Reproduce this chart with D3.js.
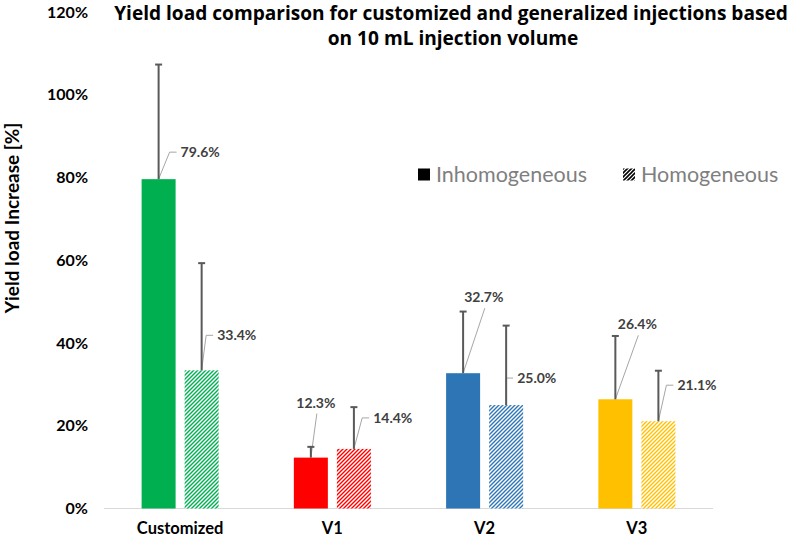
<!DOCTYPE html>
<html><head><meta charset="utf-8">
<script src="https://cdn.jsdelivr.net/npm/d3@7"></script>
<style>body{margin:0;background:#fff;} svg{display:block;}</style>
</head><body>
<svg id="chart" width="800" height="539"></svg>
<script>
const categories = ["Customized", "V1", "V2", "V3"];
const seriesNames = ["Inhomogeneous", "Homogeneous"];
const inhomogeneous = [79.6, 12.3, 32.7, 26.4];
const homogeneous = [33.4, 14.4, 25.0, 21.1];
const inhomErr = [27.7, 2.6, 14.9, 15.3];
const homErr = [25.9, 10.1, 19.2, 12.2];
const tickValues = [0, 20, 40, 60, 80, 100, 120];
const colors = ["#00b050", "#ff0000", "#2e75b6", "#ffc000"];
// label offsets relative to bar top (dx, dy, type)
const labelOffsets = [
  [{dx:22,dy:-27,t:"side"},{dx:15.5,dy:-35,t:"side"}],
  [{dx:5,dy:-55,t:"top"},{dx:19.3,dy:-31,t:"side"}],
  [{dx:20.7,dy:-76,t:"top"},{dx:11,dy:-27,t:"side"}],
  [{dx:22,dy:-75,t:"top"},{dx:19,dy:-36,t:"side"}]
];

const svg = d3.select("#chart");
const font = "Lato, 'Open Sans', sans-serif";

const x = d3.scaleBand().domain(categories).range([104, 713]).paddingInner(0.494).paddingOuter(0.247);
const xs = d3.scaleBand().domain(seriesNames).range([0, x.bandwidth()]).paddingInner(0.21);
const y = d3.scaleLinear().domain([0, 120]).range([508.5, 12]);

// patterns
const defs = svg.append("defs");
colors.forEach((c, i) => {
  const p = defs.append("pattern").attr("id", "hatch" + i).attr("patternUnits", "userSpaceOnUse")
    .attr("width", 4).attr("height", 4);
  p.append("rect").attr("width", 4).attr("height", 4).attr("fill", "#fff");
  p.append("path").attr("d", "M-1,1 l2,-2 M0,4 l4,-4 M3,5 l2,-2").attr("stroke", c).attr("stroke-width", 1.4);
});
const lp = defs.append("pattern").attr("id", "hatchLegend").attr("patternUnits", "userSpaceOnUse")
  .attr("width", 4).attr("height", 4);
lp.append("rect").attr("width", 4).attr("height", 4).attr("fill", "#fff");
lp.append("path").attr("d", "M-1,1 l2,-2 M0,4 l4,-4 M3,5 l2,-2").attr("stroke", "#000").attr("stroke-width", 1.6);

// y axis
const yAxis = svg.append("g").attr("transform", "translate(104,0)")
  .call(d3.axisLeft(y).tickValues(tickValues).tickFormat(d => d + "%").tickSize(0).tickPadding(16));
yAxis.select(".domain").remove();
yAxis.selectAll("text").attr("font-family", font).attr("font-weight", "bold").attr("font-size", 16).attr("fill", "#000");

// baseline
svg.append("line").attr("x1", 104).attr("x2", 713).attr("y1", y(0)).attr("y2", y(0))
  .attr("stroke", "#d9d9d9").attr("stroke-width", 1);

// x axis labels
const xAxis = svg.append("g").attr("transform", `translate(0,${y(0)})`)
  .call(d3.axisBottom(x).tickSize(0).tickPadding(14));
xAxis.select(".domain").remove();
xAxis.selectAll("text").attr("font-family", font).attr("font-weight", "bold").attr("font-size", 16.5).attr("fill", "#000");

// bars
const data = [];
categories.forEach((c, i) => {
  data.push({cat: c, i, s: 0, v: inhomogeneous[i], e: inhomErr[i]});
  data.push({cat: c, i, s: 1, v: homogeneous[i], e: homErr[i]});
});
const bx = d => x(d.cat) + xs(seriesNames[d.s]);
const cx = d => bx(d) + xs.bandwidth() / 2;

svg.append("g").selectAll("rect").data(data).join("rect")
  .attr("x", bx).attr("width", xs.bandwidth())
  .attr("y", d => y(d.v)).attr("height", d => y(0) - y(d.v))
  .attr("fill", d => d.s === 0 ? colors[d.i] : `url(#hatch${d.i})`);

// leader lines & labels
const lab = svg.append("g");
data.forEach(d => {
  const o = labelOffsets[d.i][d.s];
  const x0 = cx(d), y0 = y(d.v);
  if (o.t === "side") {
    lab.append("polyline")
      .attr("points", `${x0},${y0} ${x0 + o.dx - 11},${y0 + o.dy} ${x0 + o.dx - 4},${y0 + o.dy}`)
      .attr("fill", "none").attr("stroke", "#a6a6a6").attr("stroke-width", 1);
  } else {
    lab.append("line").attr("x1", x0).attr("y1", y0).attr("x2", x0 + o.dx + 1).attr("y2", y0 + o.dy + 11)
      .attr("stroke", "#a6a6a6").attr("stroke-width", 1);
  }
});

// error bars
const eb = svg.append("g").attr("stroke", "#595959").attr("stroke-width", 2);
data.forEach(d => {
  eb.append("line").attr("x1", cx(d)).attr("x2", cx(d)).attr("y1", y(d.v)).attr("y2", y(d.v + d.e));
  eb.append("line").attr("x1", cx(d) - 3.5).attr("x2", cx(d) + 3.5).attr("y1", y(d.v + d.e)).attr("y2", y(d.v + d.e));
});

data.forEach(d => {
  const o = labelOffsets[d.i][d.s];
  lab.append("text").attr("x", cx(d) + o.dx).attr("y", y(d.v) + o.dy).attr("dy", "0.35em")
    .attr("text-anchor", o.t === "side" ? "start" : "middle")
    .attr("font-family", font).attr("font-weight", "bold").attr("font-size", 14).attr("fill", "#404040")
    .text(d.v.toFixed(1) + "%");
});

// title
const title = svg.append("text").attr("text-anchor", "middle").attr("font-family", "'Open Sans', Lato, sans-serif")
  .attr("font-weight", "bold").attr("font-size", 19.1).attr("fill", "#000");
title.append("tspan").attr("x", 451).attr("y", 20).text("Yield load comparison for customized and generalized injections based");
title.append("tspan").attr("x", 453).attr("y", 45).text("on 10 mL injection volume");

// y title
svg.append("text").attr("transform", "translate(19,218) rotate(-90)").attr("text-anchor", "middle")
  .attr("font-family", font).attr("font-weight", "bold").attr("font-size", 19).attr("fill", "#000")
  .text("Yield load Increase [%]");

// legend
const lg = svg.append("g");
lg.append("rect").attr("x", 418).attr("y", 168.5).attr("width", 12).attr("height", 12).attr("fill", "#000");
lg.append("text").attr("x", 436).attr("y", 174.5).attr("dy", "0.35em").attr("font-family", font)
  .attr("font-size", 21.5).attr("fill", "#7f7f7f").text(seriesNames[0]);
lg.append("rect").attr("x", 623).attr("y", 168.5).attr("width", 12).attr("height", 12).attr("fill", "url(#hatchLegend)");
lg.append("text").attr("x", 641).attr("y", 174.5).attr("dy", "0.35em").attr("font-family", font)
  .attr("font-size", 21.5).attr("fill", "#7f7f7f").text(seriesNames[1]);
</script>
</body></html>
